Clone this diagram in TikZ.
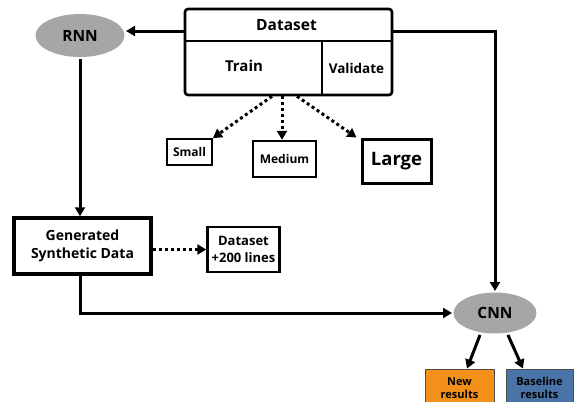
\documentclass[tikz,border=0pt]{standalone}
\usepackage{fontspec}
\setmainfont{Open Sans}
\usetikzlibrary{arrows.meta,shapes.geometric}

\definecolor{grigio}{HTML}{A6A6A6}
\definecolor{arancio}{HTML}{F39019}
\definecolor{azzurro}{HTML}{4A74A8}

\tikzset{
  scatola/.style={draw, rectangle, inner sep=0pt, align=center},
  ellisse/.style={ellipse, fill=grigio, inner sep=0pt, font=\fontsize{15.5}{18}\selectfont\bfseries},
  puntini/.style={->, dash pattern=on 3pt off 3pt, line width=3pt},
  risultato/.style={scatola, draw=black!70, line width=0.8pt, font=\fontsize{11}{13}\selectfont\bfseries}
}

\begin{document}
\begin{tikzpicture}[x=1pt, y=-1pt, line width=3pt,
    >={Triangle[width=10pt,length=9pt]}]
    % --- Cornice ---
    \clip (0,0) rectangle (574,402);
    \fill[white] (0,0) rectangle (574,402);

    % --- Dataset diviso in Train e Validate ---
    \node[scatola, rounded corners=3pt, line width=2.6pt, minimum width=207pt, minimum height=86pt] (dataset) at (288.5,52) {};
    \coordinate (div) at (322,41);
    \draw[line width=2pt] (dataset.west |- div) -- (dataset.east |- div);
    \draw[line width=1.6pt] (div) -- (div |- dataset.south);
    \node[font=\fontsize{15.5}{18}\selectfont\bfseries] (titolo) at (286.5,25) {Dataset};
    \node[font=\fontsize{15}{18}\selectfont\bfseries] (train) at (244,66) {Train};
    \node[font=\fontsize{13.5}{16}\selectfont\bfseries] (valid) at (356.5,68) {Validate};

    % --- Reti ---
    \node[ellisse, minimum width=89pt, minimum height=43pt] (rnn) at (80,35.5) {RNN};
    \node[ellisse, minimum width=83pt, minimum height=41pt] (cnn) at (495,313) {CNN};

    % --- Dimensioni del training set ---
    \node[scatola, line width=1.8pt, minimum width=45pt, minimum height=26pt, font=\fontsize{12}{14}\selectfont\bfseries] (small) at (189.5,152) {Small};
    \node[scatola, line width=2.4pt, minimum width=63pt, minimum height=36pt, font=\fontsize{12}{14}\selectfont\bfseries] (medium) at (284.5,159) {Medium};
    \node[scatola, line width=3pt, minimum width=69pt, minimum height=44pt, font=\fontsize{18.5}{22}\selectfont\bfseries] (large) at (396.5,161) {Large};

    % --- Dati sintetici ---
    \node[scatola, line width=3.5pt, minimum width=137pt, minimum height=56pt, font=\fontsize{14}{18}\selectfont\bfseries] (gen) at (82.5,246) {Generated\\Synthetic Data};
    \node[scatola, line width=2.4pt, minimum width=72pt, minimum height=45pt, font=\fontsize{13}{17}\selectfont\bfseries] (extra) at (243.5,249.5) {Dataset\\+200 lines};

    % --- Risultati ---
    \node[risultato, fill=arancio, minimum width=69pt, minimum height=38pt] (nuovi) at (459.5,388) {New\\results};
    \node[risultato, fill=azzurro, minimum width=67pt, minimum height=38pt] (base) at (539.5,388) {Baseline\\results};

    % --- Frecce ---
    \draw[->] ([yshift=21pt]dataset.west) -- ([yshift=21pt]dataset.west -| rnn.east);
    \draw[->] ([yshift=21pt]dataset.east) -| (cnn.north);
    \draw[->] (rnn.south) -- (rnn.south |- gen.north);
    \draw[->] (rnn.south |- gen.south) |- (cnn.west);
    \draw[puntini] (gen.east |- extra.west) -- (extra.west);
    \draw[puntini] ([xshift=-16.5pt]dataset.south) -- (small.north east);
    \draw[puntini] ([xshift=-6.5pt]dataset.south) -- ([xshift=-2.5pt]medium.north);
    \draw[puntini] ([xshift=8.5pt]dataset.south) -- ([xshift=-4pt]large.north west);
    \draw[->] ([xshift=-15pt]cnn.south) -- ([xshift=7.5pt]nuovi.north);
    \draw[->] ([xshift=13pt]cnn.south) -- ([xshift=-16.5pt]base.north);
\end{tikzpicture}
\end{document}
